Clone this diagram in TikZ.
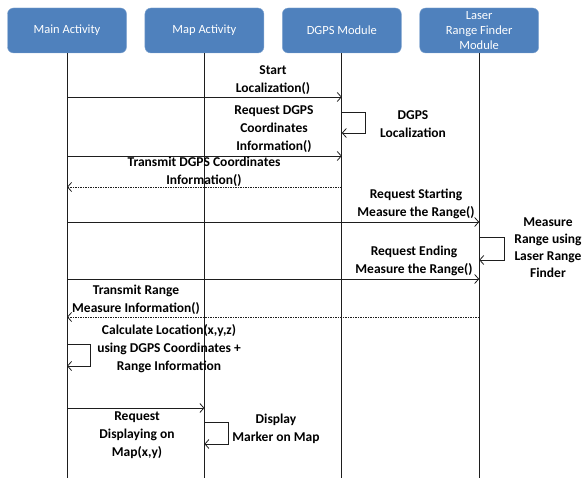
\documentclass[tikz,border=0pt]{standalone}
\usepackage{fontspec}
\setmainfont{Carlito}
\usetikzlibrary{positioning}
\usetikzlibrary{calc}
\usetikzlibrary{arrows.meta}
\definecolor{hblue}{RGB}{79,129,189}
\definecolor{hline}{RGB}{30,30,30}

\begin{document}
\begin{tikzpicture}[x=1pt, y=-1pt,
    actor/.style={draw=hblue!70!white, fill=hblue, rounded corners=6pt, minimum width=119pt, minimum height=45pt, text=white, align=center, font=\fontsize{12.5}{15}\selectfont},
    lifeline/.style={draw=hline, line width=0.8pt},
    msg/.style={-{Straight Barb[length=4pt,width=9pt]}, hline, line width=0.8pt},
    reply/.style={msg, dash pattern=on 1.5pt off 1pt},
    note/.style={align=center, inner sep=0pt, font=\bfseries\fontsize{13.5}{18}\selectfont},
]
\useasboundingbox (0,0) rectangle (583,478);

% actors
\node[actor] (main) at (67,30.5) {Main Activity};
\node[actor, right=18pt of main] (map) {Map Activity};
\node[actor, right=18pt of map] (dgps) {DGPS Module};
\node[actor, right=18pt of dgps] (laser) {Laser\\Range Finder\\Module};

% lifelines
\coordinate (mainEnd) at (main |- 0,478);
\coordinate (mapEnd) at (map |- 0,478);
\coordinate (dgpsEnd) at (dgps |- 0,478);
\coordinate (laserEnd) at (laser |- 0,478);
\draw[lifeline] (main) -- (mainEnd);
\draw[lifeline] (map) -- (mapEnd);
\draw[lifeline] (dgps) -- (dgpsEnd);
\draw[lifeline] (laser) -- (laserEnd);

% message points
\coordinate (m1) at (main |- 0,97);   \coordinate (d1) at (dgps |- 0,97);
\coordinate (m2) at (main |- 0,156);  \coordinate (d2) at (dgps |- 0,156);
\coordinate (d3a) at (dgps |- 0,112); \coordinate (d3b) at (dgps |- 0,133);
\coordinate (d4) at (dgps |- 0,187);  \coordinate (m4) at (main |- 0,187);
\coordinate (m5) at (main |- 0,222);  \coordinate (l5) at (laser |- 0,222);
\coordinate (l6a) at (laser |- 0,237); \coordinate (l6b) at (laser |- 0,260);
\coordinate (m7) at (main |- 0,279);  \coordinate (l7) at (laser |- 0,279);
\coordinate (l8) at (laser |- 0,317); \coordinate (m8) at (main |- 0,317);
\coordinate (m9a) at (main |- 0,344); \coordinate (m9b) at (main |- 0,366);
\coordinate (m10) at (main |- 0,408); \coordinate (p10) at (map |- 0,408);
\coordinate (p11a) at (map |- 0,422); \coordinate (p11b) at (map |- 0,444);

\draw[msg] (m1) -- (d1);
\draw[msg] (m2) -- (d2);
\draw[msg] (d3a) -- ++(24,0) |- (d3b);
\draw[reply] (d4) -- (m4);
\draw[msg] (m5) -- (l5);
\draw[msg] (l6a) -- ++(25,0) |- (l6b);
\draw[msg] (m7) -- (l7);
\draw[reply] (l8) -- (m8);
\draw[msg] (m9a) -- ++(23,0) |- (m9b);
\draw[msg] (m10) -- (p10);
\draw[msg] (p11a) -- ++(24,0) |- (p11b);

% labels
\node[note] (lblStart) at (273,80) {Start\\Localization()};
\node[note] (lblReqDgps) at (274,129) {Request DGPS\\Coordinates\\Information()};
\node[note] (lblDgpsLoc) at (413,124) {DGPS\\Localization};
\node[note] (lblTransDgps) at (204,172) {Transmit DGPS Coordinates\\Information()};
\node[note] (lblReqStart) at (416,204) {Request Starting\\Measure the Range()};
\node[note, font=\bfseries\fontsize{13.5}{17}\selectfont] (lblMeasure) at (548,248) {Measure\\Range using\\Laser Range\\Finder};
\node[note] (lblReqEnd) at (414,261) {Request Ending\\Measure the Range()};
\node[note] (lblTransRange) at (136,300) {Transmit Range\\Measure Information()};
\node[note] (lblCalc) at (169,349) {Calculate Location(x,y,z)\\using DGPS Coordinates +\\Range Information};
\node[note] (lblReqDisp) at (137,435) {Request\\Displaying on\\Map(x,y)};
\node[note] (lblDisplay) at (276,429) {Display\\Marker on Map};

\end{tikzpicture}
\end{document}
